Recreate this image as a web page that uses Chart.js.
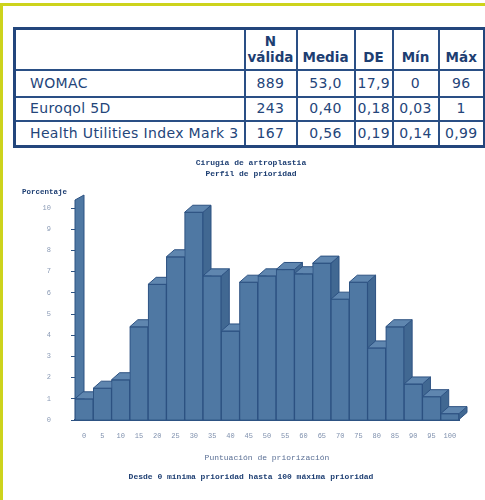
<!DOCTYPE html>
<html>
<head>
<meta charset="utf-8">
<script src="https://cdn.jsdelivr.net/npm/chart.js@4/dist/chart.umd.min.js"></script>
<style>
  html, body { margin: 0; padding: 0; background: #ffffff; }
  body { width: 485px; height: 500px; position: relative; overflow: hidden; }
  .band-top { position: absolute; left: 0; top: 3px; width: 485px; height: 3px; background: #cdd31c; }
  .band-left { position: absolute; left: 0; top: 3px; width: 3px; height: 497px; background: #cdd31c; }
  table.stats {
    position: absolute; left: 13px; top: 27px; width: 470px; height: 118px;
    border-collapse: collapse; border: 3px solid #23467c;
    font-family: "DejaVu Sans", Verdana, sans-serif; font-size: 13.5px; color: #1d3e72;
    table-layout: fixed;
  }
  table.stats td, table.stats th { border: 2px solid #2a4f85; padding: 0 2px; line-height: 1.15; }
  table.stats th { font-weight: bold; text-align: center; vertical-align: bottom; padding-bottom: 3px; }
  table.stats td { text-align: center; vertical-align: middle; font-size: 14px; letter-spacing: 0.35px; color: #24457a; }
  table.stats td.name { text-align: left; padding-left: 14px; }
  #chartBox { position: absolute; left: 0; top: 150px; width: 485px; height: 350px; }
</style>
</head>
<body>
<div class="band-top"></div>
<div class="band-left"></div>

<table class="stats">
  <colgroup>
    <col style="width:230px"><col style="width:52px"><col style="width:58px">
    <col style="width:38px"><col style="width:46px"><col style="width:46px">
  </colgroup>
  <tr style="height:41px"><th></th><th>N<br>válida</th><th>Media</th><th>DE</th><th>Mín</th><th>Máx</th></tr>
  <tr style="height:27px"><td class="name">WOMAC</td><td>889</td><td>53,0</td><td>17,9</td><td>0</td><td>96</td></tr>
  <tr style="height:24px"><td class="name">Euroqol 5D</td><td>243</td><td>0,40</td><td>0,18</td><td>0,03</td><td>1</td></tr>
  <tr style="height:26px"><td class="name">Health Utilities Index Mark 3</td><td>167</td><td>0,56</td><td>0,19</td><td>0,14</td><td>0,99</td></tr>
</table>

<div id="chartBox"><canvas id="chart" width="485" height="350"></canvas></div>

<script>
// Puntuación de priorización (clases de 5 puntos)
const categories = ['0', '5', '10', '15', '20', '25', '30', '35', '40', '45', '50',
                    '55', '60', '65', '70', '75', '80', '85', '90', '95', '100'];
// Porcentaje de pacientes en cada clase
const percentages = [1.0, 1.5, 1.9, 4.4, 6.4, 7.7, 9.8, 6.8, 4.2, 6.5, 6.8,
                     7.1, 6.9, 7.4, 5.7, 6.5, 3.4, 4.4, 1.7, 1.1, 0.3];
// Marcas del eje de porcentaje
const yTicks = [0, 1, 2, 3, 4, 5, 6, 7, 8, 9, 10];

const titleLines = ['Cirugía de artroplastia', 'Perfil de prioridad'];
const xTitle = 'Puntuación de priorización';
const yTitle = 'Porcentaje';
const footNote = 'Desde 0 mínima prioridad hasta 100 máxima prioridad';

const FRONT = '#4f78a3';
const SIDE = '#416892';
const TOP = '#5f86af';
const EDGE = '#2d5282';
const DEPTH_X = 8;
const DEPTH_Y = 7;
const MONO = '"Liberation Mono", "DejaVu Sans Mono", monospace';

function poly(ctx, pts, fill) {
  ctx.beginPath();
  ctx.moveTo(pts[0][0], pts[0][1]);
  for (let k = 1; k < pts.length; k++) ctx.lineTo(pts[k][0], pts[k][1]);
  ctx.closePath();
  ctx.fillStyle = fill;
  ctx.fill();
  ctx.strokeStyle = EDGE;
  ctx.lineWidth = 1;
  ctx.stroke();
}

// Extruded columns: side and top faces added to each bar element, left to right
const columns3d = {
  id: 'columns3d',
  beforeDatasetsDraw(chart) {
    const { ctx, chartArea: a, scales: { y } } = chart;
    const base = y.getPixelForValue(0);
    const top = a.top - 8;
    ctx.save();
    // side wall of the value axis
    poly(ctx, [[a.left, base], [a.left, top], [a.left + DEPTH_X + 1, top - 5],
               [a.left + DEPTH_X + 1, base - DEPTH_Y]], FRONT);
    ctx.restore();
  },
  afterDatasetsDraw(chart) {
    const { ctx } = chart;
    const meta = chart.getDatasetMeta(0);
    ctx.save();
    meta.data.forEach((bar) => {
      const { x, y, base, width } = bar.getProps(['x', 'y', 'base', 'width'], true);
      const l = x - width / 2;
      const r = x + width / 2;
      bar.draw(ctx);
      poly(ctx, [[r, y], [r + DEPTH_X, y - DEPTH_Y], [r + DEPTH_X, base - DEPTH_Y], [r, base]], SIDE);
      poly(ctx, [[l, y], [l + DEPTH_X, y - DEPTH_Y], [r + DEPTH_X, y - DEPTH_Y], [r, y]], TOP);
    });
    ctx.restore();
  },
  afterDraw(chart) {
    const { ctx, chartArea: a } = chart;
    ctx.save();
    ctx.font = 'bold 7.5px ' + MONO;
    ctx.fillStyle = '#1d3e72';
    ctx.textAlign = 'right';
    ctx.textBaseline = 'middle';
    ctx.fillText(yTitle, a.left - 8, a.top - 16);
    ctx.restore();
  }
};

new Chart(document.getElementById('chart'), {
  type: 'bar',
  data: {
    labels: categories,
    datasets: [{
      data: percentages,
      backgroundColor: FRONT,
      borderColor: EDGE,
      borderWidth: { left: 1, right: 1, top: 1, bottom: 0 },
      categoryPercentage: 1,
      barPercentage: 1
    }]
  },
  plugins: [columns3d],
  options: {
    responsive: false,
    devicePixelRatio: 1,
    animation: false,
    layout: { padding: { left: 43, right: 26, top: 0, bottom: 0 } },
    plugins: {
      legend: { display: false },
      tooltip: { enabled: false },
      title: {
        display: true,
        text: titleLines,
        color: '#1d3e72',
        font: { family: MONO, size: 8, weight: 'bold', lineHeight: 1.375 },
        padding: { top: 7.5, bottom: 28.5 }
      },
      subtitle: {
        display: true,
        position: 'bottom',
        text: footNote,
        color: '#1d3e72',
        font: { family: MONO, size: 8, weight: 'bold', lineHeight: 1.375 },
        padding: { top: 4, bottom: 17.5 }
      }
    },
    scales: {
      x: {
        afterFit(scale) { scale.height = 47.5; },
        grid: { display: false, drawTicks: false },
        border: { display: true, color: EDGE, width: 2 },
        ticks: {
          color: '#7f90ad', autoSkip: false, maxRotation: 0, padding: 12,
          font: { family: MONO, size: 7 }
        },
        title: {
          display: true, text: xTitle, color: '#5a6f95',
          font: { family: MONO, size: 8, lineHeight: 1.375 },
          padding: { top: 0, bottom: 4 }
        }
      },
      y: {
        min: 0,
        max: 10,
        afterFit(scale) { scale.width = 32; },
        afterBuildTicks(scale) { scale.ticks = yTicks.map(v => ({ value: v })); },
        grid: { drawOnChartArea: false, drawTicks: true, tickLength: 4, color: EDGE },
        border: { display: true, color: EDGE, width: 1 },
        ticks: {
          color: '#8a9ab5', padding: 20,
          font: { family: MONO, size: 7 }
        }
      }
    }
  }
});
</script>
</body>
</html>
